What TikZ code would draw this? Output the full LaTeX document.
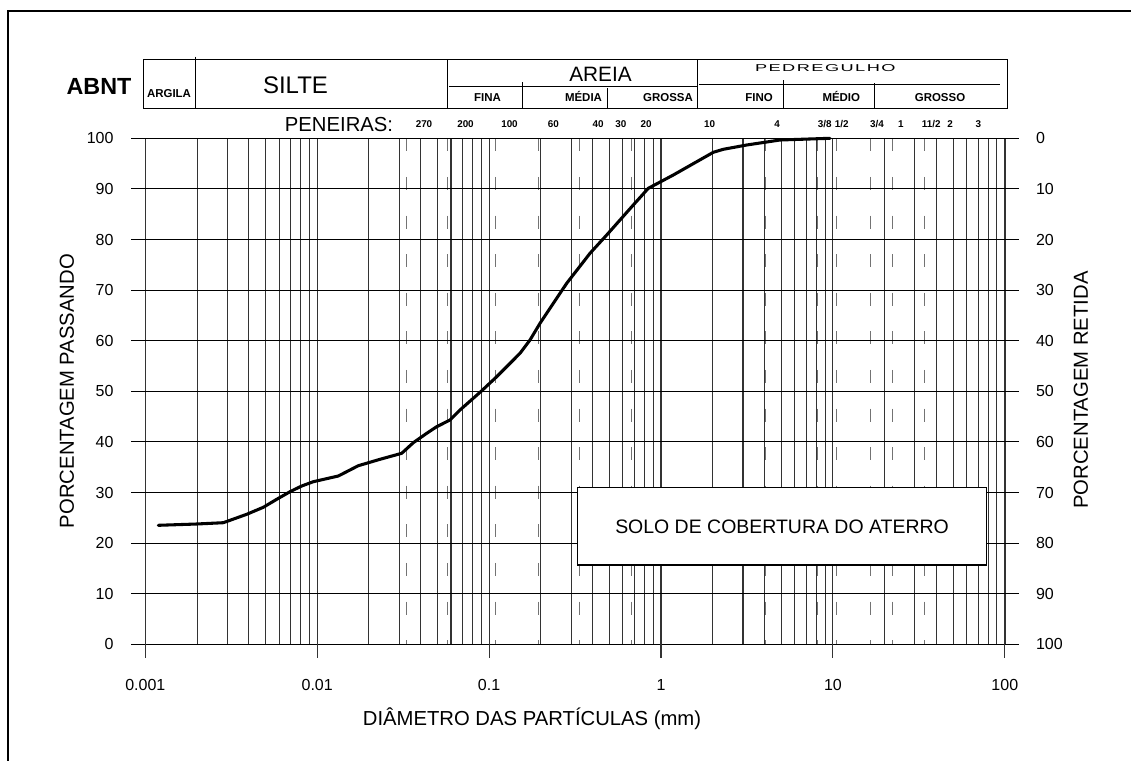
\documentclass[tikz,border=0pt]{standalone}
\usepackage{fontspec}
\setmainfont{Liberation Sans}
\newfontfamily\pedfont[LetterSpace=8]{Liberation Sans}
\begin{document}
\begin{tikzpicture}[x=0.75pt,y=-0.75pt,
  vgrid/.style={black!80, line width=0.8pt},
  hgrid/.style={black, line width=0.8pt},
  sievel/.style={black!55, line width=0.75pt, dash pattern=on 9.75pt off 19.2pt},
  curve/.style={black, line width=2.3pt, line join=round, line cap=round},
  hdr/.style={black, line width=1pt},
  hdiv/.style={black, line width=0.75pt},
  txt/.style={inner sep=0pt, outer sep=0pt},
  tick/.style={txt, font=\fontsize{12}{14}\selectfont},
  small/.style={txt, anchor=base, font=\fontsize{8.6}{10}\selectfont\bfseries},
  sv/.style={txt, font=\fontsize{7.4}{8}\selectfont\bfseries},
  title/.style={txt, font=\fontsize{15.2}{18}\selectfont}]
\useasboundingbox (0,0) rectangle (1131,760);

% outer frame (left and top edges visible)
\draw[line width=1.5pt] (8,765) -- (8,11.3) -- (1136,11.3);

% vertical log grid
\foreach \d in {0,...,4}{
  \foreach \k in {1,...,9}{
    \pgfmathsetmacro\xx{145.3+171.9*(\d+ln(\k)/ln(10))}
    \draw[vgrid] (\xx,138.3) -- (\xx,644.3);
  }
}
\draw[vgrid] (1005,138.3) -- (1005,644.3);

% dashed sieve lines
\foreach \xx in {406.7,447.5,495,538.3,579.3,631.5,765,817.5,836,870.7,892.7,924.7}
  \draw[sievel] (\xx,138.3) -- (\xx,644.3);

% horizontal grid
\foreach \i in {0,...,10}
  \draw[hgrid] (131,{138.3+50.6*\i}) -- (1019,{138.3+50.6*\i});

% decade ticks below axis
\foreach \d in {0,...,5}
  \draw[vgrid] ({145.3+171.9*\d},644.3) -- ({145.3+171.9*\d},657.7);

% y tick labels
\foreach \i in {0,...,10}{
  \pgfmathtruncatemacro\lv{100-10*\i}
  \pgfmathtruncatemacro\rv{10*\i}
  \node[tick, anchor=east] (yl\i) at (113.5,{138.3+50.6*\i}) {\lv};
  \node[tick, anchor=west] (yr\i) at (1036,{138.3+50.6*\i}) {\rv};
}

% x tick labels
\foreach \lab [count=\d from 0] in {0.001,0.01,0.1,1,10,100}
  \node[tick] (xl\d) at ({145.3+171.9*\d},685) {\lab};

% axis titles
\node[title, anchor=base] (xt) at (532,725.3) {DIÂMETRO DAS PARTÍCULAS (mm)};
\node[title, rotate=90] (ylt) at (67,391) {PORCENTAGEM PASSANDO};
\node[title, rotate=90] (yrt) at (1081,390) {PORCENTAGEM RETIDA};

% grain size curve
\draw[curve] (158.3,525.3) -- (196.7,524) -- (223.3,522.7) -- (246.7,514.3)
  -- (263.3,507.3) -- (276.7,499.3) -- (290,491.7) -- (301.7,486)
  -- (313.3,481.7) -- (338.3,476) -- (358.3,465.7) -- (380,459.3)
  -- (401.7,453.3) -- (413.3,442.7) -- (426.7,433.3) -- (436.7,426.7)
  -- (450,420) -- (460,410) -- (480.7,391.7) -- (496.7,376.7)
  -- (520,353.3) -- (530,340) -- (540,323.3) -- (566.7,283.3)
  -- (590,253.3) -- (606.7,235) -- (633.3,205) -- (648.3,188.3)
  -- (673.3,175) -- (713.3,152.3) -- (723.3,149.3) -- (746.7,145)
  -- (780,140) -- (830,138.3);

% legend box
\node[draw, line width=1pt, fill=white, minimum width=307pt, minimum height=58pt,
      font=\fontsize{14.6}{17}\selectfont] (solo) at (782,526.4) {SOLO DE COBERTURA DO ATERRO};

% header table
\draw[hdr] (143.3,59.3) rectangle (1007.3,108.5);
\draw[hdiv] (195.3,56.7) -- (195.3,108.5);
\draw[hdiv] (447.5,59.3) -- (447.5,108.5);
\draw[hdiv] (697.5,59.3) -- (697.5,108.5);
\draw[hdiv] (449,86) -- (697.5,86);
\draw[hdiv] (699,84.3) -- (1000,84.3);
\draw[hdiv] (522.7,82) -- (522.7,108.5);
\draw[hdiv] (607.5,88) -- (607.5,108.5);
\draw[hdiv] (783.3,80) -- (783.3,108.5);
\draw[hdiv] (874,83.3) -- (874,108.5);

\node[txt, font=\fontsize{17.5}{20}\selectfont\bfseries] (abnt) at (99,86.5) {ABNT};
\node[small] (argila) at (169,97.6) {ARGILA};
\node[txt, font=\fontsize{18}{21}\selectfont] (silte) at (295.5,85.5) {SILTE};
\node[txt, font=\fontsize{15.6}{18}\selectfont] (areia) at (600.5,74.2) {AREIA};
\node[txt] (pedr) at (825.3,68.3) {\scalebox{1.82}[1]{\fontsize{7.5}{8}\selectfont\pedfont PEDREGULHO}};
\node[small] (fina) at (487.5,101.6) {FINA};
\node[small] (mediaa) at (583.5,101.6) {MÉDIA};
\node[small] (grossa) at (668,101.6) {GROSSA};
\node[small] (fino) at (759,101.1) {FINO};
\node[small] (medio) at (841.3,101.1) {MÉDIO};
\node[small] (grosso) at (940,101.1) {GROSSO};

% sieve labels
\node[txt, font=\fontsize{15.2}{18}\selectfont] (pen) at (339,125) {PENEIRAS:};
\foreach \xx/\lab [count=\j] in {424/270,465.5/200,509.5/100,553.3/60,598/40,620.8/30,646.2/20,
   709.5/10,777/4,824.7/3\slash 8,841.7/1\slash 2,877/3\slash 4,900.8/1,931.3/11\slash 2,950/2,978.3/3}
  \node[sv] (s\j) at (\xx,124.5) {\lab};
\end{tikzpicture}
\end{document}
